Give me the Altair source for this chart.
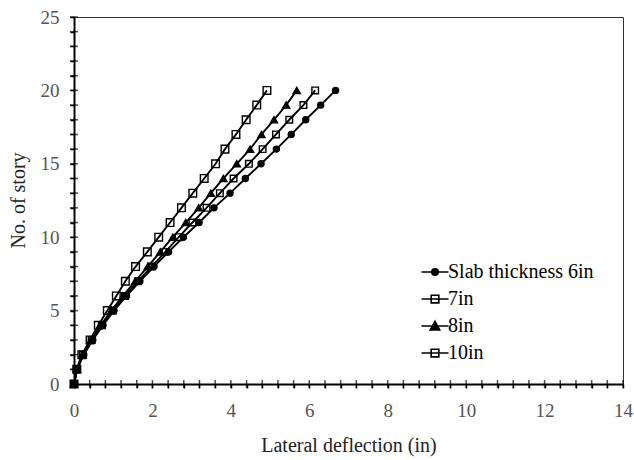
import altair as alt
import pandas as pd

# ---- data ----
series_names = ["Slab thickness 6in", "7in", "8in", "10in"]
stories = list(range(21))
defl_6in = [0, 0.08, 0.25, 0.48, 0.74, 1.02, 1.34, 1.68, 2.04, 2.41, 2.79, 3.19, 3.57, 3.98, 4.37, 4.77, 5.16, 5.54, 5.91, 6.29, 6.67]
defl_7in = [0, 0.08, 0.23, 0.45, 0.71, 0.99, 1.30, 1.63, 1.98, 2.33, 2.67, 3.02, 3.38, 3.72, 4.07, 4.46, 4.81, 5.15, 5.49, 5.85, 6.15]
defl_8in = [0, 0.08, 0.22, 0.43, 0.68, 0.95, 1.25, 1.56, 1.88, 2.20, 2.52, 2.85, 3.18, 3.49, 3.81, 4.15, 4.49, 4.78, 5.10, 5.41, 5.68]
defl_10in = [0, 0.07, 0.20, 0.41, 0.62, 0.85, 1.08, 1.31, 1.57, 1.87, 2.16, 2.45, 2.74, 3.03, 3.32, 3.61, 3.85, 4.13, 4.39, 4.66, 4.92]

x_tick_values = [0, 0.4, 0.8, 1.2, 1.6, 2, 2.4, 2.8, 3.2, 3.6, 4, 4.4, 4.8, 5.2, 5.6, 6, 6.4, 6.8,
                 7.2, 7.6, 8, 8.4, 8.8, 9.2, 9.6, 10, 10.4, 10.8, 11.2, 11.6, 12, 12.4, 12.8, 13.2, 13.6, 14]
y_tick_values = list(range(0, 26))

rows = []
for name, vals in zip(series_names, [defl_6in, defl_7in, defl_8in, defl_10in]):
    for s, v in zip(stories, vals):
        rows.append({"series": name, "story": s, "defl": v})
df = pd.DataFrame(rows)

FONT = "Liberation Serif"

x_scale = alt.Scale(domain=[0, 14], nice=False, zero=False)
y_scale = alt.Scale(domain=[0, 25], nice=False, zero=False)

x_axis = alt.Axis(
    values=x_tick_values,
    labelExpr="datum.value % 2 == 0 ? format(datum.value, 'd') : ''",
    title="Lateral deflection (in)", grid=False,
    domainColor="black", domainWidth=2,
    tickColor="black", tickWidth=1.5, tickSize=4,
    labelFont=FONT, labelFontSize=19, labelColor="#555", labelPadding=13,
    labelOverlap=False, labelFlush=False,
    titleFont=FONT, titleFontSize=20, titleFontWeight="normal", titleColor="#222",
    titleX=274.5, titleY=61, titleBaseline="middle", titleAlign="center",
)
y_axis = alt.Axis(
    values=y_tick_values,
    labelExpr="datum.value % 5 == 0 ? format(datum.value, 'd') : ''",
    title="No. of story", grid=False,
    domainColor="black", domainWidth=2,
    tickColor="black", tickWidth=1.5, tickSize=4,
    labelFont=FONT, labelFontSize=19, labelColor="#555", labelPadding=11,
    labelOverlap=False, labelFlush=False,
    titleFont=FONT, titleFontSize=20, titleFontWeight="normal", titleColor="#222",
    titleX=-56, titleY=183, titleBaseline="middle", titleAlign="center", titleAngle=270,
)

X = alt.X("defl:Q", scale=x_scale, axis=x_axis)
Y = alt.Y("story:Q", scale=y_scale, axis=y_axis)

shape_range = ["circle", "square", "triangle-up", "square"]
fill_range = ["black", "transparent", "black", "transparent"]
size_range = [36, 58, 72, 58]

lines = alt.Chart(df).mark_line(color="black", strokeWidth=1.9).encode(
    x=X, y=Y, detail="series:N", order="story:Q"
)

points = alt.Chart(df).mark_point(color="black", strokeWidth=1.4, opacity=1).encode(
    x=X, y=Y,
    shape=alt.Shape("series:N", scale=alt.Scale(domain=series_names, range=shape_range), legend=None),
    fill=alt.Fill("series:N", scale=alt.Scale(domain=series_names, range=fill_range), legend=None),
    size=alt.Size("series:N", scale=alt.Scale(domain=series_names, range=size_range), legend=None),
)

legend_paths = [
    "M-3,0H3M-0.72,0A0.72,0.72,0,1,0,0.72,0A0.72,0.72,0,1,0,-0.72,0Z",
    "M-3,0H3M-0.85,-0.85H0.85V0.85H-0.85Z",
    "M-3,0H3M0,-1.05L1.05,0.85L-1.05,0.85Z",
    "M-3,0H3M-0.85,-0.85H0.85V0.85H-0.85Z",
]
leg = alt.Legend(
    orient="none", legendX=351, legendY=245, title=None,
    labelFont=FONT, labelFontSize=20, labelColor="black", labelOffset=3,
    symbolSize=81, symbolStrokeColor="black", symbolStrokeWidth=1.6,
    rowPadding=7,
)
legend_layer = alt.Chart(df).transform_filter("false").mark_point(color="black", opacity=1).encode(
    x=X, y=Y,
    shape=alt.Shape("series:N", scale=alt.Scale(domain=series_names, range=legend_paths), legend=leg),
    fill=alt.Fill("series:N", scale=alt.Scale(domain=series_names, range=fill_range), legend=leg),
    stroke=alt.Stroke("series:N", scale=alt.Scale(domain=series_names, range=["black"] * 4), legend=leg),
)

ytick_df = pd.DataFrame({"v": y_tick_values})
xtick_df = pd.DataFrame({"v": x_tick_values})
yticks = alt.Chart(ytick_df).mark_tick(orient="horizontal", size=8, thickness=1.5, color="black").encode(
    y=alt.Y("v:Q", scale=y_scale, axis=y_axis), x=alt.datum(0, scale=x_scale, axis=x_axis)
)
xticks = alt.Chart(xtick_df).mark_tick(orient="vertical", size=8, thickness=1.5, color="black").encode(
    x=alt.X("v:Q", scale=x_scale, axis=x_axis), y=alt.datum(0, scale=y_scale, axis=y_axis)
)

chart = alt.layer(lines, points, legend_layer, yticks, xticks).resolve_scale(
    shape="independent", fill="independent", size="independent", stroke="independent"
).properties(
    width=549, height=367,
    padding={"left": 74, "top": 17, "right": 11, "bottom": 76},
    autosize=alt.AutoSizeParams(type="none"),
    background="white",
).configure_view(stroke="#333", strokeWidth=1)

chart.save("out.html", embed_options={"renderer": "svg", "actions": False})
